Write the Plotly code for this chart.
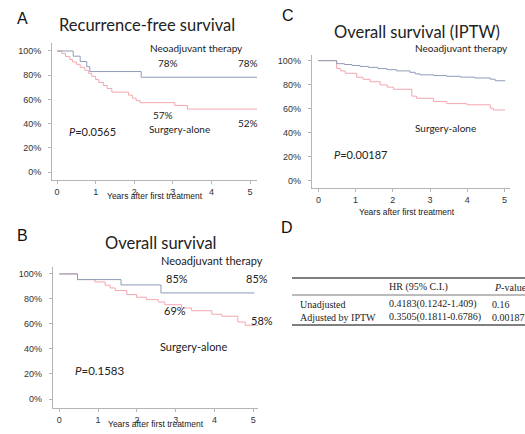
import plotly.graph_objects as go

W, H = 525, 434

# ---------------- data ----------------
# Panel A: Recurrence-free survival
a_neo_t = [0, 0.42, 0.60, 0.77, 0.85, 2.18, 5.20]
a_neo_s = [100, 95.7, 91.3, 87.0, 83.0, 78.3, 78.3]
a_sur_t = [0, 0.12, 0.22, 0.33, 0.40, 0.50, 0.60, 0.72, 0.82, 0.90, 1.00, 1.08, 1.20, 1.30,
           1.42, 1.85, 1.95, 2.05, 2.15, 3.05, 3.38, 5.20]
a_sur_s = [100, 98, 95.5, 93, 91, 89, 86.5, 84, 81.5, 79, 76.5, 74, 71.5, 69,
           66, 63.5, 61, 59, 57.3, 55, 52, 52]

# Panel B: Overall survival
b_neo_t = [0, 0.47, 1.59, 2.62, 5.03]
b_neo_s = [100, 95.5, 91.2, 84.8, 84.8]
b_sur_t = [0, 0.47, 0.92, 1.18, 1.31, 1.44, 1.74, 1.99, 2.25, 2.55, 2.72, 3.15, 3.41,
           3.93, 4.19, 4.60, 4.79, 5.12]
b_sur_s = [100, 95.5, 93.6, 91, 88.8, 86.7, 83.5, 81.4, 79.5, 77.6, 75.4, 72.8, 70.6,
           67.8, 66.2, 61.6, 59, 59]

# Panel C: Overall survival (IPTW)
c_neo_t = [0, 0.49, 0.70, 0.90, 1.12, 1.35, 1.60, 1.84, 2.10, 2.46, 2.60, 2.73, 3.10,
           3.45, 3.81, 4.20, 4.62, 4.75, 5.02]
c_neo_s = [100, 97.5, 96.8, 96.0, 95.2, 94.4, 93.4, 92.5, 91.5, 90.3, 89.0, 88.2, 87.6,
           87.0, 86.3, 85.6, 84.6, 83.3, 83.3]
c_sur_t = [0, 0.49, 0.60, 0.72, 1.03, 1.20, 1.39, 1.66, 1.85, 2.02, 2.51, 2.64, 3.09,
           3.45, 3.99, 4.62, 4.70, 5.02]
c_sur_s = [100, 93.5, 91.5, 89.5, 86.2, 84.5, 82.5, 79.8, 78.0, 76.2, 70.5, 68.7, 66.0,
           64.3, 63.3, 60.5, 59.0, 59.0]

x_ticks = [0, 1, 2, 3, 4, 5]
y_ticks = [0, 20, 40, 60, 80, 100]
y_tick_labels = ["0%", "20%", "40%", "60%", "80%", "100%"]

table_header = ["", "HR (95% C.I.)", "<i>P</i>-value"]
table_rows = [
    ["Unadjusted", "0.4183(0.1242-1.409)", "0.16"],
    ["Adjusted by IPTW", "0.3505(0.1811-0.6786)", "0.00187"],
]

# ---------------- styling ----------------
BLUE = "#8e9cb8"
RED = "#f3a6ae"
AXIS = "#b5b5b5"
TXT = "#333333"
SANS = "Lato"
ARIAL = "Liberation Sans"
SERIF = "Liberation Serif"


def px(x):
    return x / W


def py(y):
    return 1 - y / H


fig = go.Figure()

panels = [
    ("A", "x", "y", (52, 257, 43, 180), [-0.13, 5.18], [-6.6, 106.6],
     (a_neo_t, a_neo_s, a_sur_t, a_sur_s)),
    ("C", "x2", "y2", (311.7, 510, 55, 188.3), [-0.18, 5.15], [-6.1, 104.7],
     (c_neo_t, c_neo_s, c_sur_t, c_sur_s)),
    ("B", "x3", "y3", (52.7, 258, 266.7, 408), [-0.17, 5.12], [-7.2, 105.8],
     (b_neo_t, b_neo_s, b_sur_t, b_sur_s)),
]

layout_axes = {}
for i, (name, xa, ya, dom, xr, yr, d) in enumerate(panels):
    nt, ns, st, ss = d
    fig.add_trace(go.Scatter(x=st, y=ss, mode="lines", line=dict(color=RED, width=1, shape="hv"),
                             xaxis=xa, yaxis=ya, showlegend=False, hoverinfo="skip"))
    fig.add_trace(go.Scatter(x=nt, y=ns, mode="lines", line=dict(color=BLUE, width=1, shape="hv"),
                             xaxis=xa, yaxis=ya, showlegend=False, hoverinfo="skip"))
    xkey = "xaxis" if i == 0 else f"xaxis{i+1}"
    ykey = "yaxis" if i == 0 else f"yaxis{i+1}"
    layout_axes[xkey] = dict(domain=[px(dom[0]), px(dom[1])], range=xr, anchor=ya,
                             showgrid=False, zeroline=False, showline=True, linecolor=AXIS,
                             linewidth=1, ticks="outside", ticklen=3, tickcolor=AXIS,
                             tickvals=x_ticks, tickfont=dict(family=ARIAL, size=9, color=TXT),
                             fixedrange=True)
    layout_axes[ykey] = dict(domain=[py(dom[3]), py(dom[2])], range=yr, anchor=xa,
                             showgrid=False, zeroline=False, showline=True, linecolor=AXIS,
                             linewidth=1, ticks="outside", ticklen=3, tickcolor=AXIS,
                             tickvals=y_ticks, ticktext=y_tick_labels,
                             tickfont=dict(family=ARIAL, size=9, color=TXT),
                             ticklabelstandoff=5, fixedrange=True)

ann = []


def text(x, y, s, size, family=SANS, color="#222", xanchor="center"):
    ann.append(dict(x=px(x), y=py(y), xref="paper", yref="paper", text=s, showarrow=False,
                    xanchor=xanchor, yanchor="middle",
                    font=dict(family=family, size=size, color=color)))


# Panel letters
text(22, 19, "A", 16, ARIAL, "#111")
text(288, 16, "C", 16, ARIAL, "#111")
text(22, 235, "B", 16, ARIAL, "#111")
text(287, 228, "D", 16, ARIAL, "#111")

# Titles
text(57, 25, "Recurrence-free survival", 16.5, xanchor="left")
text(332, 32, "Overall survival (IPTW)", 16.5, xanchor="left")
text(103, 243, "Overall survival", 16.5, xanchor="left")

# Panel A labels
text(148, 48, "Neoadjuvant therapy", 10, xanchor="left")
text(168, 63, "78%", 10)
text(248, 63, "78%", 10)
text(163, 115, "57%", 10)
text(248, 123, "52%", 10)
text(147, 129, "Surgery-alone", 10, xanchor="left")
text(67, 131, "<i>P</i>=0.0565", 11, xanchor="left")
text(155, 196, "Years after first treatment", 8.5, ARIAL)

# Panel C labels
text(413, 48, "Neoadjuvant therapy", 10, xanchor="left")
text(413, 128, "Surgery-alone", 10, xanchor="left")
text(332, 154, "<i>P</i>=0.00187", 11, xanchor="left")
text(407, 212, "Years after first treatment", 8.5, ARIAL)

# Panel B labels
text(159, 260, "Neoadjuvant therapy", 11, xanchor="left")
text(177, 278, "85%", 11)
text(257, 278, "85%", 11)
text(175, 310, "69%", 11)
text(262, 320, "58%", 11)
text(158, 346, "Surgery-alone", 11, xanchor="left")
text(73, 370, "<i>P</i>=0.1583", 11.5, xanchor="left")
text(156, 424, "Years after first treatment", 8.5, ARIAL)

# Table D
col_x = [298, 387, 490]
row_y = [287, 304, 317]
for j, s in enumerate(table_header):
    if s:
        text(col_x[j] if j < 2 else col_x[j] + 2, row_y[0], s, 10, SERIF, "#222", xanchor="left")
for r, row in enumerate(table_rows):
    for j, s in enumerate(row):
        text(col_x[j], row_y[r + 1], s, 10, SERIF, "#222", xanchor="left")

shapes = []
for yy, wdt in [(278, 1.3), (295, 0.8), (325, 1.3)]:
    shapes.append(dict(type="line", xref="paper", yref="paper", x0=px(292), x1=px(525),
                       y0=py(yy), y1=py(yy), line=dict(color="#555", width=wdt)))

fig.update_layout(width=W, height=H, margin=dict(l=0, r=0, t=0, b=0),
                  paper_bgcolor="white", plot_bgcolor="white",
                  annotations=ann, shapes=shapes, **layout_axes)

fig.write_html("out.html", config={"displayModeBar": False},
               post_script="document.body.style.margin='0';document.body.style.overflow='hidden';")
